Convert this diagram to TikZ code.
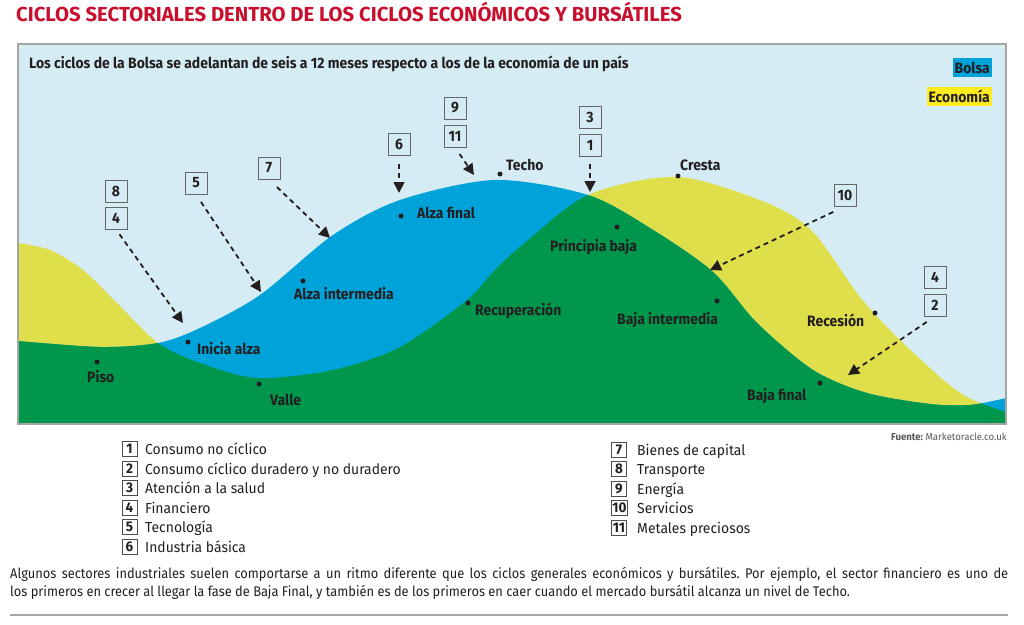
\documentclass[tikz,border=0pt]{standalone}
\usepackage{fontspec}
\setmainfont{Fira Sans}
\newfontfamily\narrowfont[FakeStretch=0.93]{Fira Sans}
\newfontfamily\notefont[FakeStretch=0.918]{Fira Sans}
\newfontfamily\legendfont[FakeStretch=0.96]{Fira Sans}
\usetikzlibrary{arrows.meta}
\frenchspacing

\definecolor{skyback}{RGB}{213,236,244}
\definecolor{bolsablue}{RGB}{0,163,217}
\definecolor{ecoyellow}{RGB}{222,223,74}
\definecolor{bothgreen}{RGB}{0,150,75}
\definecolor{tagyellow}{RGB}{255,236,30}
\definecolor{titlered}{RGB}{200,16,46}
\definecolor{inkgray}{RGB}{35,31,32}
\definecolor{framegray}{RGB}{165,165,165}

% the two cycles, in pixels (y runs downwards)
\newcommand{\bolsaregion}{(18,424) -- plot[smooth] coordinates {(18,341) (100,347) (158,343) (200,328) (260,295) (333,235) (400,200) (495,180) (588,195) (653,230) (713,272) (757,323) (813,370) (867,393) (930,404) (970,405) (1006,398)} -- (1006,424) -- cycle}
\newcommand{\ecoregion}{(18,424) -- plot[smooth] coordinates {(18,243) (50,250) (83,270) (117,303) (158,343) (200,363) (257,378) (333,370) (400,347) (467,300) (493,272) (520,247) (588,195) (678,177) (767,203) (813,232) (860,297) (900,340) (947,383) (973,400) (1006,412)} -- (1006,424) -- cycle}

\begin{document}
\begin{tikzpicture}[x=1pt, y=-1pt,
  numbox/.style={draw=gray!80!black, line width=0.8pt, minimum width=22pt, minimum height=22pt, inner sep=1pt, text=inkgray, font=\narrowfont\bfseries\fontsize{15}{15}\selectfont},
  sectorarrow/.style={draw=inkgray, line width=1.8pt, dash pattern=on 5pt off 4pt, -{Triangle[length=11pt,width=11pt]}},
  phase/.style={inner sep=0pt, text=inkgray, font=\narrowfont\bfseries\fontsize{15}{15}\selectfont},
  phasedot/.style={circle, fill=inkgray, inner sep=0pt, minimum size=5pt},
  legbox/.style={draw=inkgray!80, fill=white, line width=0.8pt, minimum width=15pt, minimum height=15pt, inner sep=1pt, text=inkgray, font=\legendfont\bfseries\fontsize{14}{14}\selectfont},
  legtext/.style={inner sep=0pt, text=inkgray, font=\legendfont\fontsize{14.5}{14.5}\selectfont}]
  \useasboundingbox (0,0) rectangle (1024,624);

  % Title
  \node[anchor=base west, inner sep=0pt, text=titlered, font=\bfseries\fontsize{20.3}{20.3}\selectfont] (title) at (16,21) {CICLOS SECTORIALES DENTRO DE LOS CICLOS ECONÓMICOS Y BURSÁTILES};

  % Chart: background, economy, stock market and their overlap
  \fill[skyback] (18,44) rectangle (1006,424);
  \fill[ecoyellow] \ecoregion;
  \fill[bolsablue] \bolsaregion;
  \begin{scope}
    \clip \ecoregion;
    \fill[bothgreen] \bolsaregion;
  \end{scope}
  \draw[framegray, line width=1.2pt] (18,44) rectangle (1006,424);

  \node[phase, anchor=base west] (subtitle) at (29,68) {Los ciclos de la Bolsa se adelantan de seis a 12 meses respecto a los de la economía de un país};
  \node[phase, anchor=east, fill=bolsablue, inner xsep=2pt, minimum height=19pt] (tagbolsa) at (992,67.5) {Bolsa};
  \node[phase, anchor=east, fill=tagyellow, inner xsep=2pt, minimum height=19pt] (tageco) at (992,96) {Economía};

  % Phases
  \node[phasedot] (dottecho) at (500,174) {};
  \node[phase, anchor=base west] (techo) at (506,170) {Techo};
  \node[phasedot] (dotcresta) at (678,176) {};
  \node[phase, anchor=base west] (cresta) at (680,170) {Cresta};
  \node[phasedot] (dotalzafinal) at (401,216) {};
  \node[phase, anchor=base west] (alzafinal) at (417,218) {Alza final};
  \node[phasedot] (dotprincipia) at (617,227) {};
  \node[phase, anchor=base west] (principia) at (550,251) {Principia baja};
  \node[phasedot] (dotalzainter) at (303,281) {};
  \node[phase, anchor=base west] (alzainter) at (294,299) {Alza intermedia};
  \node[phasedot] (dotrecup) at (468,303) {};
  \node[phase, anchor=base west] (recup) at (475,315) {Recuperación};
  \node[phasedot] (dotbajainter) at (717,301) {};
  \node[phase, anchor=base west] (bajainter) at (617,324) {Baja intermedia};
  \node[phasedot] (dotrecesion) at (875,313) {};
  \node[phase, anchor=base west] (recesion) at (807,326) {Recesión};
  \node[phasedot] (dotbajafinal) at (820,383) {};
  \node[phase, anchor=base west] (bajafinal) at (747,400) {Baja final};
  \node[phasedot] (dotinicia) at (188,342) {};
  \node[phase, anchor=base west] (inicia) at (197,354) {Inicia alza};
  \node[phasedot] (dotpiso) at (97,362) {};
  \node[phase, anchor=base west] (piso) at (87,382) {Piso};
  \node[phasedot] (dotvalle) at (259,384) {};
  \node[phase, anchor=base west] (valle) at (270,405) {Valle};

  % Sector boxes and their arrows
  \node[numbox] (boxa8) at (116,191) {8};
  \node[numbox] (boxa4) at (116,218) {4};
  \node[numbox] (boxa5) at (196,183) {5};
  \node[numbox] (boxa7) at (269,168) {7};
  \node[numbox] (boxa6) at (399,144) {6};
  \node[numbox] (boxa9) at (455,108) {9};
  \node[numbox] (boxa11) at (455,136) {11};
  \node[numbox] (boxa3) at (590,117) {3};
  \node[numbox] (boxa1) at (590,145) {1};
  \node[numbox] (boxa10) at (845,195) {10};
  \node[numbox] (boxb4) at (935,277) {4};
  \node[numbox] (boxb2) at (935,305) {2};

  \coordinate (tip4) at (183,323);
  \coordinate (tip5) at (261,292);
  \coordinate (tip7) at (330,238);
  \coordinate (tip6) at (399,193);
  \coordinate (tip11) at (474,175);
  \coordinate (tip1) at (590,192);
  \coordinate (tip10) at (710,270);
  \coordinate (tip2) at (848,375);

  \draw[sectorarrow, shorten <=6pt] (boxa4.south) -- (tip4);
  \draw[sectorarrow, shorten <=9pt] (boxa5.south) -- (tip5);
  \draw[sectorarrow, shorten <=11pt] (boxa7.south) -- (tip7);
  \draw[sectorarrow, shorten <=9pt] (boxa6.south) -- (tip6);
  \draw[sectorarrow, shorten <=8pt] (boxa11.south) -- (tip11);
  \draw[sectorarrow, shorten <=8pt] (boxa1.south) -- (tip1);
  \draw[sectorarrow, shorten <=13pt] (boxa10.south) -- (tip10);
  \draw[sectorarrow, shorten <=10pt] (boxb2.south) -- (tip2);

  \node[anchor=base east, inner sep=0pt, text=inkgray!75, font=\legendfont\fontsize{10}{10}\selectfont] (fuente) at (1007,440) {\textbf{Fuente:} Marketoracle.co.uk};

  % Legend
  \node[legbox] (leg1) at (129.5,449) {1};
  \node[legtext, anchor=base west] (legtxt1) at (145,454) {Consumo no cíclico};
  \node[legbox] (leg2) at (129.5,469) {2};
  \node[legtext, anchor=base west] (legtxt2) at (145,474) {Consumo cíclico duradero y no duradero};
  \node[legbox] (leg3) at (129.5,488) {3};
  \node[legtext, anchor=base west] (legtxt3) at (145,493) {Atención a la salud};
  \node[legbox] (leg4) at (129.5,508) {4};
  \node[legtext, anchor=base west] (legtxt4) at (145,513) {Financiero};
  \node[legbox] (leg5) at (129.5,527) {5};
  \node[legtext, anchor=base west] (legtxt5) at (145,532) {Tecnología};
  \node[legbox] (leg6) at (129.5,547) {6};
  \node[legtext, anchor=base west] (legtxt6) at (145,552) {Industria básica};

  \node[legbox, anchor=west] (leg7) at (611,450) {7};
  \node[legtext, anchor=base west] (legtxt7) at (637,455) {Bienes de capital};
  \node[legbox, anchor=west] (leg8) at (611,469) {8};
  \node[legtext, anchor=base west] (legtxt8) at (637,474) {Transporte};
  \node[legbox, anchor=west] (leg9) at (611,489) {9};
  \node[legtext, anchor=base west] (legtxt9) at (637,494) {Energía};
  \node[legbox, anchor=west] (leg10) at (611,508) {10};
  \node[legtext, anchor=base west] (legtxt10) at (637,513) {Servicios};
  \node[legbox, anchor=west] (leg11) at (611,528) {11};
  \node[legtext, anchor=base west] (legtxt11) at (637,533) {Metales preciosos};

  % Note under the chart
  \node[anchor=base west, inner sep=0pt, text=inkgray, font=\notefont\fontsize{14}{14}\selectfont] (noteone) at (10,578) {\makebox[998pt][s]{Algunos sectores industriales suelen comportarse a un ritmo diferente que los ciclos generales económicos y bursátiles. Por ejemplo, el sector financiero es uno de}};
  \node[anchor=base west, inner sep=0pt, text=inkgray, font=\notefont\fontsize{14}{14}\selectfont] (notetwo) at (10,596) {los primeros en crecer al llegar la fase de Baja Final, y también es de los primeros en caer cuando el mercado bursátil alcanza un nivel de Techo.};
  \draw[framegray, line width=1.2pt] (10,615) -- (1008,615);
\end{tikzpicture}
\end{document}
